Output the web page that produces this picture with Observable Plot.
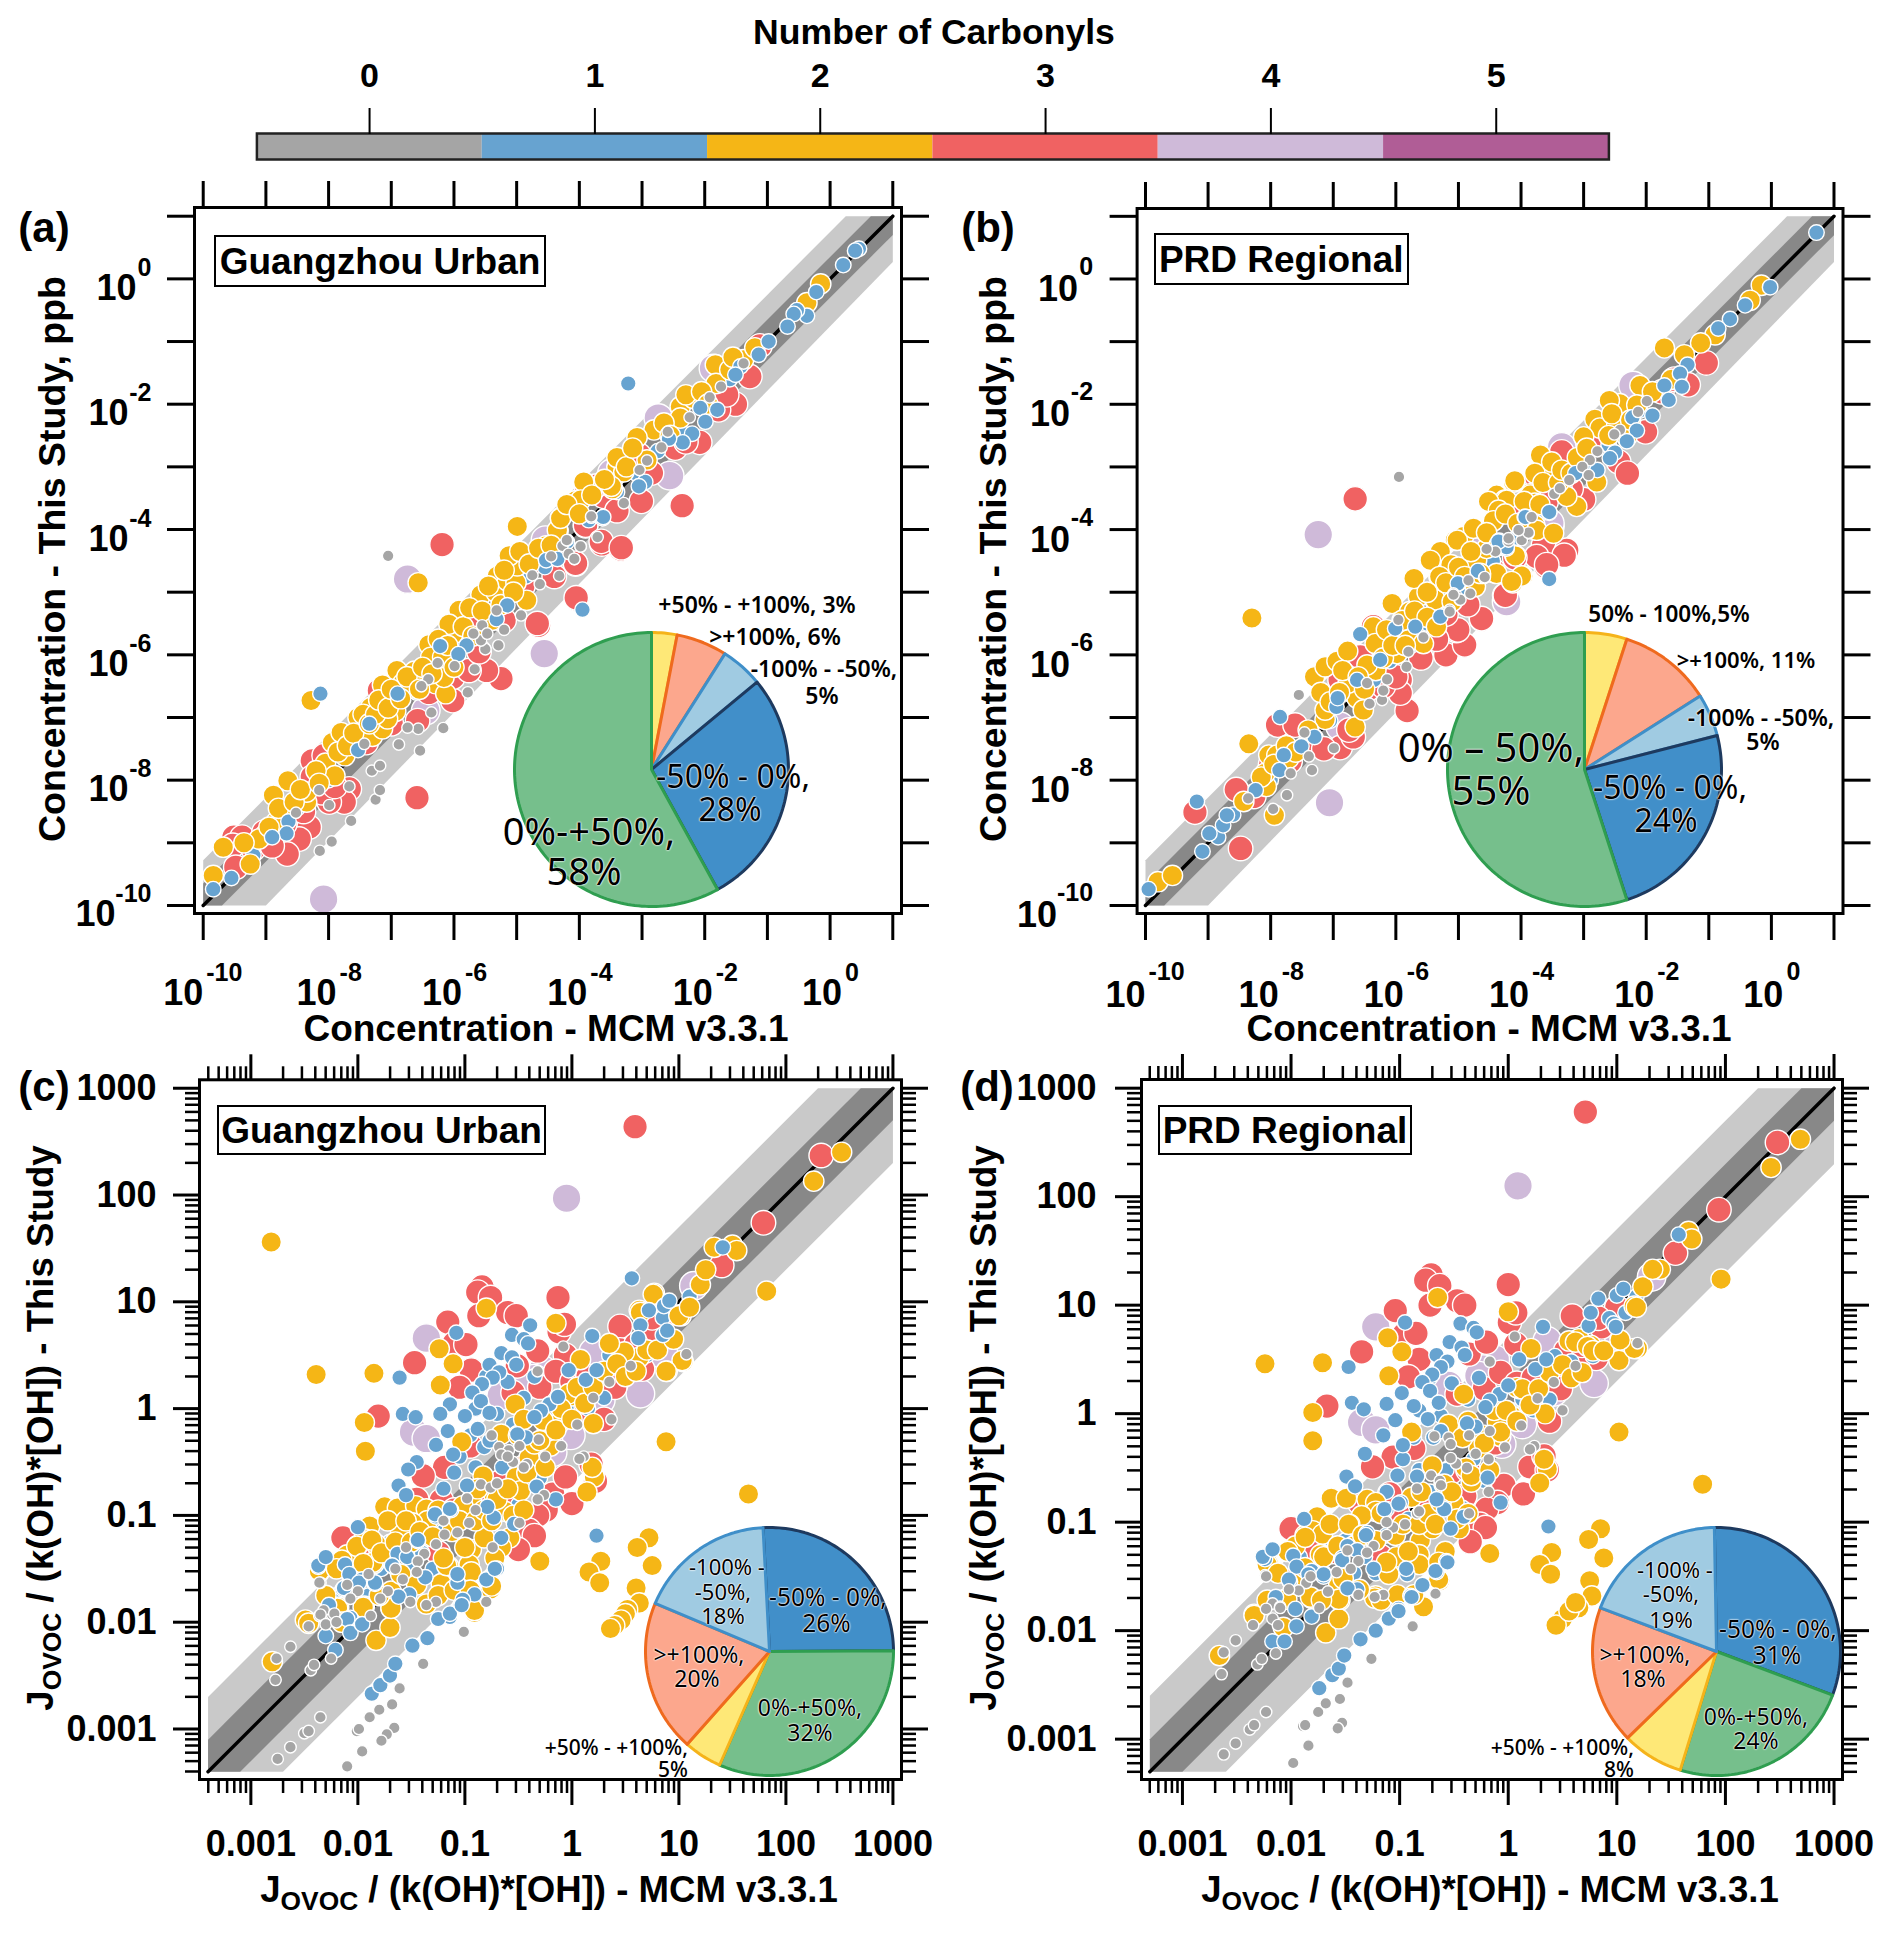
<!DOCTYPE html>
<html><head><meta charset="utf-8">
<script src="https://cdn.jsdelivr.net/npm/d3@7"></script>
<script src="https://cdn.jsdelivr.net/npm/@observablehq/plot@0.6"></script>
<style>
html,body{margin:0;padding:0;background:#fff}
#fig{position:relative;width:1892px;height:1933px;overflow:hidden;font-family:"Liberation Sans",Arial,sans-serif;color:#000}
#fig>svg,#fig>figure{position:absolute;margin:0}
.t{position:absolute;width:0;height:0}
.t span{position:absolute;white-space:nowrap;line-height:1}
.box{position:absolute;box-sizing:border-box;border:2px solid #000;background:#fff;font-weight:700;display:flex;align-items:center;justify-content:center;white-space:nowrap;line-height:1}
.p{position:absolute;white-space:nowrap;line-height:1;font-family:"Noto Sans",sans-serif;text-shadow:0 0 2px #fff,0 0 2px #fff,0 0 1px #fff}
sub{font-size:.72em;vertical-align:-.3em;line-height:0}
</style></head><body><div id="fig"></div>
<script>
// ---------- categories and colours ----------
const carbonyls=[0,1,2,3,4,5];
const carbonylColors=["#a5a5a5","#67a3d0","#f5b616","#f06262","#cfbad9","#b05d96"];
const dotRadii=[5.8,7.8,10.2,12.3,14.3];
const concExponents=[-10,-9,-8,-7,-6,-5,-4,-3,-2,-1,0,1];
const concLabelExponents=[-10,-8,-6,-4,-2,0];
const ratioMajor=[0.001,0.01,0.1,1,10,100,1000];
const ratioLabels=["0.001","0.01","0.1","1","10","100","1000"];

// ---------- pie shares (percent) ----------
const pieAValues=[3,6,5,28,58];
const pieBValues=[5,11,5,24,55];
const pieCValues=[26,32,5,20,18];
const pieDValues=[31,24,8,18,19];

// ---------- panel (a): log10 MCM, log10 this study ----------
const aGrey=[[-7.05,-4.42],[-8.14,-9.13],[-7.95,-8.98],[-7.64,-8.65],[-8.52,-8.52],[-7.99,-8.40],[-8.15,-8.16],[-7.67,-8.10],[-7.25,-8.31],[-7.18,-8.16],[-7.31,-7.85],[-7.18,-7.77],[-6.54,-7.53],[-6.88,-7.43],[-6.57,-7.18],[-6.17,-7.17],[-6.74,-7.16],[-7.43,-7.42],[-6.36,-6.92],[-5.78,-6.60],[-5.67,-6.23],[-6.26,-6.13],[-6.41,-6.39],[-6.52,-6.50],[-5.99,-6.18],[-5.29,-5.85],[-5.50,-5.91],[-5.57,-5.77],[-5.55,-5.53],[-5.69,-5.66],[-5.47,-5.66],[-5.20,-5.60],[-5.32,-5.29],[-4.93,-5.37],[-4.75,-4.73],[-4.63,-4.87],[-4.45,-4.43],[-4.27,-4.26],[-4.17,-4.39],[-4.08,-4.47],[-3.98,-4.27],[-4.19,-4.17],[-3.81,-3.81],[-3.71,-4.12],[-4.32,-4.74],[-1.38,-1.35],[-1.74,-1.72],[-1.92,-1.89],[-2.24,-2.21],[-2.59,-2.44],[-2.69,-2.69],[-2.92,-2.90],[-3.04,-3.05],[-3.29,-3.58],[-3.81,-3.79],[-4.20,-4.17],[-3.98,-4.27],[-4.08,-4.47]];
const aBlue=[[-9.84,-9.74],[-9.55,-9.56],[-8.64,-8.66],[-8.67,-8.85],[-7.53,-7.52],[-8.13,-6.62],[-3.95,-5.28],[-3.63,-3.82],[-4.53,-4.49],[-4.35,-4.47],[-5.15,-5.21],[-5.32,-5.43],[-5.80,-5.85],[-5.93,-5.99],[-6.22,-5.86],[-6.90,-6.62],[-7.35,-7.10],[-8.90,-8.91],[0.46,0.48],[0.40,0.45],[0.21,0.22],[-0.22,-0.21],[-0.37,-0.59],[-0.53,-0.50],[-0.58,-0.56],[-0.68,-0.76],[-0.98,-1.00],[-1.14,-1.21],[-1.43,-1.40],[-1.51,-1.53],[-3.22,-1.67],[-2.07,-2.06],[-1.80,-2.09],[-1.99,-2.28],[-2.20,-2.47],[-2.35,-2.61],[-2.57,-2.55],[-2.95,-3.24],[-3.05,-3.31],[-3.62,-3.80]];
const aBlueBack=[[-9.2,-9.2],[-8.5,-8.45],[-8.0,-8.0],[-7.7,-7.6],[-7.2,-7.2],[-6.95,-6.95],[-6.6,-6.6],[-6.35,-6.25],[-6.05,-6.05],[-5.85,-5.75],[-5.45,-5.45],[-5.2,-5.1],[-4.85,-4.75],[-4.55,-4.6],[-4.2,-4.2],[-3.85,-3.85],[-3.4,-3.4],[-3.1,-3.1],[-2.75,-2.75],[-2.4,-2.4],[-2.0,-2.0],[-1.6,-1.6]];
const aGold=[[-9.84,-9.52],[-9.68,-9.07],[-9.25,-9.34],[-9.01,-8.87],[-9.11,-8.94],[-8.88,-8.24],[-8.65,-8.01],[-8.28,-6.73],[-8.74,-8.59],[-8.84,-8.67],[-8.35,-8.35],[-8.35,-8.19],[-8.05,-7.73],[-7.90,-7.93],[-7.74,-7.61],[-7.94,-7.40],[-7.80,-7.24],[-7.46,-7.18],[-7.53,-7.00],[-7.33,-6.84],[-7.30,-7.30],[-7.14,-7.18],[-6.93,-6.90],[-7.06,-7.02],[-7.14,-6.48],[-6.91,-6.25],[-6.82,-6.46],[-6.69,-6.53],[-6.63,-6.26],[-6.45,-6.41],[-6.29,-6.46],[-6.13,-6.62],[-6.16,-6.36],[-6.40,-5.84],[-6.26,-5.99],[-6.37,-6.04],[-6.18,-6.04],[-6.02,-5.67],[-5.92,-5.29],[-6.08,-5.51],[-5.57,-5.04],[-5.33,-5.00],[-5.31,-4.74],[-5.15,-4.82],[-5.01,-4.85],[-4.99,-4.58],[-5.12,-4.42],[-4.84,-5.13],[-5.49,-5.35],[-5.39,-5.45],[-4.34,-4.02],[-4.30,-3.81],[-4.53,-4.26],[-4.06,-3.54],[-4.99,-3.95],[-6.57,-4.85],[-3.47,-3.35],[-3.90,-3.27],[-0.15,-0.08],[-0.37,-0.38],[-1.83,-1.37],[-1.38,-1.29],[-1.82,-1.67],[-2.39,-2.04],[-2.39,-2.22],[-2.18,-1.91],[-2.81,-2.41],[-3.08,-2.53],[-2.92,-2.89],[-3.40,-3.00],[-3.29,-3.08],[-3.49,-3.31],[-3.93,-3.24],[-3.98,-3.53],[-4.35,-4.01],[-4.30,-3.82]];
const aGoldDense=[[-9.35,-9.0],[-8.95,-8.75],[-8.8,-8.45],[-8.55,-8.35],[-8.45,-8.15],[-8.2,-7.85],[-8.15,-8.05],[-7.85,-7.55],[-7.7,-7.45],[-7.6,-7.25],[-7.45,-6.95],[-7.35,-7.1],[-7.25,-6.95],[-7.2,-6.72],[-7.05,-6.85],[-7.0,-6.55],[-6.85,-6.7],[-6.75,-6.35],[-6.55,-6.55],[-6.5,-6.2],[-6.35,-6.3],[-6.25,-5.75],[-6.1,-5.85],[-6.0,-6.2],[-5.85,-5.55],[-5.75,-5.25],[-5.7,-5.7],[-5.55,-5.3],[-5.45,-4.9],[-5.25,-5.2],[-5.2,-4.65],[-5.05,-5.0],[-4.95,-4.35],[-4.8,-4.55],[-4.65,-4.3],[-4.45,-4.25],[-4.2,-3.6],[-4.0,-3.75],[-3.8,-3.45],[-3.6,-3.2],[-3.4,-2.85],[-3.25,-3.0],[-3.15,-2.7],[-2.65,-2.3],[-2.55,-2.5],[-2.3,-1.85],[-2.05,-1.8],[-1.95,-2.0],[-1.6,-1.45],[-1.55,-1.25],[-1.2,-1.1]];
const aRed=[[-6.19,-4.24],[-6.59,-8.28],[-4.65,-5.53],[-5.25,-6.38],[-4.04,-5.11],[-3.34,-4.31],[-3.64,-4.23],[-4.06,-4.55],[-4.72,-4.50],[-3.90,-3.94],[-3.87,-3.38],[-3.60,-3.38],[-5.48,-6.25],[-6.02,-6.73],[-5.76,-5.56],[-6.02,-6.36],[-5.76,-6.25],[-8.26,-7.69],[-8.07,-7.61],[-7.67,-8.14],[-7.75,-8.35],[-7.99,-8.35],[-8.31,-8.75],[-8.47,-8.94],[-8.66,-9.18],[-9.51,-8.91],[-9.38,-8.91],[-9.53,-9.04],[-9.48,-9.39],[-9.03,-8.83],[-8.21,-8.11],[-8.26,-7.95],[-7.19,-6.57],[-6.58,-7.05],[-1.12,-1.07],[-1.28,-1.56],[-1.51,-2.00],[-1.78,-2.09],[-2.08,-2.61],[-2.47,-2.70],[-3.05,-2.81],[-3.01,-3.55],[-2.36,-3.62],[-3.61,-3.47],[-3.88,-3.37],[-3.75,-3.31],[-3.90,-3.93],[-3.65,-4.19],[-3.33,-4.29],[-4.06,-4.54],[-4.73,-4.51],[-4.05,-5.09],[-4.67,-5.50],[-9.2,-9.1],[-8.9,-9.05],[-8.7,-8.7],[-8.4,-8.5],[-8.1,-8.2],[-7.9,-8.1],[-7.4,-7.4],[-7.0,-7.1],[-6.4,-6.6],[-6.2,-6.0],[-5.6,-5.95],[-5.2,-5.45],[-4.9,-4.9],[-4.4,-4.75],[-3.4,-3.7],[-2.85,-3.1],[-2.3,-2.6],[-1.65,-1.85]];
const aPurple=[[-8.08,-9.90],[-6.74,-4.79],[-4.56,-5.98],[-6.45,-6.89],[-4.53,-4.23],[-2.74,-2.22],[-2.56,-3.14],[-1.86,-1.43],[-3.48,-3.10],[-4.54,-4.17]];

// ---------- panel (b) ----------
const bGrey=[[-7.55,-6.64],[-5.95,-3.16],[-7.96,-8.46],[-7.74,-8.24],[-8.36,-8.29],[-7.68,-7.89],[-7.34,-7.84],[-7.39,-7.62],[-7.46,-7.24],[-6.99,-7.49],[-6.42,-6.78],[-6.22,-6.72],[-6.20,-6.57],[-6.14,-6.39],[-6.46,-6.45],[-5.83,-6.19],[-5.80,-5.95],[-5.56,-5.72],[-5.14,-5.28],[-4.98,-5.12],[-4.81,-5.02],[-5.08,-5.02],[-4.59,-4.77],[-4.84,-4.81],[-4.41,-4.35],[-4.55,-4.31],[-4.20,-4.19],[-4.04,-4.01],[-3.88,-4.06],[-3.99,-4.17],[-3.47,-3.43],[-3.83,-3.80],[-5.96,-5.44],[-1.99,-1.95],[-2.13,-2.12],[-2.42,-2.41],[-2.51,-2.48],[-2.78,-2.75],[-2.90,-2.89],[-3.02,-3.00],[-2.92,-3.13],[-3.23,-3.21],[-3.38,-3.34],[-3.88,-4.05],[-4.04,-4.01],[-4.20,-4.14],[-4.58,-4.76],[-4.97,-5.12],[-5.08,-5.04],[-5.14,-5.31]];
const bBlue=[[-9.95,-9.74],[-9.09,-9.14],[-8.84,-8.91],[-8.98,-8.85],[-8.76,-8.72],[-8.70,-8.56],[-8.24,-8.16],[-9.18,-8.34],[-7.86,-7.84],[-7.79,-7.60],[-7.51,-7.46],[-7.30,-7.31],[-6.95,-6.83],[-6.93,-6.69],[-6.62,-6.40],[-6.57,-5.67],[-6.25,-6.08],[-6.01,-5.58],[-5.69,-5.55],[-5.29,-5.39],[-5.00,-4.86],[-4.69,-4.66],[-3.55,-4.79],[-3.55,-3.73],[-4.23,-4.30],[-4.35,-4.18],[-3.94,-3.80],[-7.85,-6.99],[0.72,0.74],[-0.02,-0.13],[-0.42,-0.42],[-0.66,-0.64],[-0.85,-0.79],[-1.34,-1.37],[-1.46,-1.51],[-1.71,-1.70],[-1.43,-1.72],[-1.64,-1.93],[-1.90,-2.18],[-2.22,-2.21],[-2.15,-2.42],[-2.31,-2.59],[-2.50,-2.77],[-2.58,-2.86],[-2.78,-3.05],[-3.13,-3.10],[-3.55,-3.72],[-3.93,-3.80],[-4.23,-4.28],[-4.36,-4.19],[-5.01,-4.86]];
const bBlueBack=[[-8.6,-8.55],[-8.0,-8.0],[-7.55,-7.55],[-7.05,-7.05],[-6.7,-6.65],[-6.35,-6.4],[-6.1,-6.1],[-5.75,-5.85],[-5.5,-5.5],[-5.15,-5.2],[-4.85,-4.95],[-4.45,-4.5],[-4.1,-4.15],[-3.7,-3.75],[-3.3,-3.35],[-2.95,-3.0],[-2.6,-2.65],[-2.1,-2.1]];
const bGold=[[-9.80,-9.62],[-9.57,-9.52],[-8.30,-5.41],[-8.35,-7.42],[-7.94,-8.56],[-8.43,-8.34],[-8.07,-8.10],[-8.09,-7.89],[-8.03,-7.60],[-7.90,-7.60],[-7.71,-7.65],[-7.13,-7.03],[-7.13,-6.88],[-6.65,-7.15],[-6.62,-6.69],[-6.76,-6.45],[-6.52,-6.88],[-6.32,-6.25],[-6.46,-6.16],[-7.30,-6.35],[-7.13,-6.19],[-6.94,-6.10],[-6.77,-5.94],[-6.36,-5.55],[-6.33,-5.82],[-5.98,-5.98],[-6.06,-5.18],[-5.80,-5.76],[-5.56,-5.82],[-5.78,-5.31],[-5.64,-5.07],[-5.37,-5.14],[-5.71,-4.78],[-5.45,-4.49],[-5.29,-4.35],[-5.31,-4.75],[-5.13,-4.57],[-5.05,-4.17],[-4.76,-3.97],[-4.92,-4.11],[-4.71,-4.49],[-4.55,-4.30],[-4.39,-4.70],[-4.10,-4.41],[-4.13,-4.85],[-3.97,-4.74],[-4.44,-3.85],[-4.52,-3.56],[-4.39,-3.45],[-4.26,-3.53],[-3.86,-3.43],[-4.12,-3.24],[-3.78,-3.93],[-0.16,-0.10],[-0.34,-0.34],[-0.90,-0.89],[-1.13,-1.02],[-1.71,-1.10],[-1.39,-1.21],[-2.10,-1.70],[-2.42,-1.99],[-2.59,-1.94],[-2.15,-2.01],[-2.82,-2.24],[-2.74,-2.38],[-2.47,-2.33],[-3.00,-2.52],[-2.31,-2.52],[-2.79,-3.24],[-3.56,-3.05],[-3.69,-2.81],[-3.51,-2.92],[-3.78,-3.10],[-4.10,-3.22],[-3.85,-3.45],[-3.78,-3.58],[-3.11,-3.63],[-3.27,-3.47],[-4.23,-3.53],[-4.52,-3.55],[-4.36,-3.69],[-4.44,-3.86],[-4.76,-3.98],[-5.02,-4.17],[-4.09,-4.42],[-3.75,-4.01],[-3.48,-4.06],[-3.99,-4.74],[-4.15,-4.83],[-5.29,-4.35],[-5.45,-4.49],[-5.12,-4.56],[-5.30,-4.75],[-5.37,-5.12],[-4.65,-4.72],[-4.73,-4.91]];
const bGoldDense=[[-8.15,-7.95],[-7.95,-7.75],[-7.75,-7.45],[-7.6,-7.55],[-7.4,-7.2],[-7.2,-6.6],[-7.05,-6.75],[-6.9,-6.6],[-6.85,-6.25],[-6.6,-6.35],[-6.5,-6.55],[-6.2,-6.05],[-6.15,-5.6],[-6.05,-5.85],[-5.9,-5.45],[-5.85,-5.85],[-5.7,-5.3],[-5.5,-5.4],[-5.5,-5.0],[-5.35,-5.55],[-5.2,-4.85],[-5.1,-5.15],[-5.0,-4.6],[-4.9,-4.75],[-4.8,-4.35],[-4.65,-4.7],[-4.55,-4.05],[-4.35,-4.25],[-4.25,-3.75],[-4.05,-3.9],[-3.95,-3.55],[-3.7,-3.6],[-3.65,-3.25],[-3.4,-3.25],[-3.35,-3.05],[-3.2,-3.1],[-3.1,-2.85],[-2.95,-2.7],[-2.6,-2.5],[-2.55,-2.15],[-2.25,-2.25],[-1.9,-1.8],[-1.6,-1.6]];
const bRed=[[-9.21,-8.51],[-8.48,-9.09],[-7.89,-7.12],[-7.61,-7.12],[-5.82,-6.89],[-5.93,-6.40],[-5.93,-6.61],[-6.89,-7.48],[-6.68,-7.31],[-7.69,-7.70],[-8.27,-8.26],[-6.65,-3.51],[-5.20,-6.00],[-4.90,-5.84],[-5.03,-5.61],[-4.63,-5.43],[-4.26,-5.05],[-3.75,-4.43],[-3.60,-4.59],[-3.64,-4.25],[-3.27,-4.33],[-6.57,-6.03],[-6.36,-5.55],[-6.89,-6.40],[-1.04,-1.34],[-1.33,-1.69],[-2.44,-2.92],[-2.30,-3.10],[-2.01,-2.44],[-3.35,-2.76],[-3.75,-3.16],[-3.48,-3.18],[-3.00,-3.52],[-3.31,-4.41],[-3.75,-4.43],[-3.59,-4.56],[-4.25,-5.05],[-4.63,-5.42],[-5.01,-5.60],[-7.35,-7.35],[-7.15,-7.5],[-6.75,-7.2],[-6.45,-6.55],[-6.2,-6.5],[-6.0,-6.35],[-5.6,-6.05],[-5.35,-5.75],[-5.2,-5.35],[-4.85,-5.2],[-4.45,-4.65],[-4.1,-4.45],[-3.95,-3.7],[-3.6,-3.55],[-3.2,-3.35],[-2.7,-2.55],[-1.75,-1.8],[-1.55,-1.6],[-8.55,-8.15],[-8.0,-7.75]];
const bPurple=[[-7.24,-4.08],[-7.06,-8.36],[-6.89,-7.14],[-4.23,-5.15],[-4.68,-4.17],[-3.54,-3.95],[-2.21,-1.70],[-3.35,-2.68],[-3.54,-3.90],[-4.65,-4.22]];

// ---------- panel (c): log10 MCM, log10 this study ----------
const cGrey=[[-0.08,0.58],[-0.32,0.35],[0.37,-0.10],[-0.31,-0.29],[-0.49,-0.35],[-0.68,-0.36],[-0.59,-0.39],[-0.66,-0.43],[-0.42,-0.52],[0.11,-0.45],[0.07,-0.47],[1.07,0.51],[-0.85,-0.71],[-0.76,-0.74],[-0.98,-0.84],[-0.26,-0.81],[-0.32,-0.85],[-0.96,-1.07],[-0.49,-1.07],[-1.19,-1.18],[-1.07,-1.16],[-1.27,-1.27],[-1.38,-1.36],[-1.44,-1.43],[-1.45,-1.53],[-1.58,-1.60],[-2.35,-1.63],[-2.00,-1.71],[-1.72,-1.71],[-1.79,-1.78],[-2.07,-1.78],[-1.51,-1.81],[-1.27,-1.81],[-1.36,-1.84],[-0.80,-1.81],[-1.88,-1.94],[-2.24,-1.93],[-2.32,-1.89],[-2.36,-1.94],[-0.74,-1.30],[-2.10,-3.35],[-1.96,-3.21],[-2.01,-3.02],[-1.99,-3.00],[-1.89,-2.89],[-1.80,-2.82],[-1.68,-2.77],[-1.61,-2.62],[-1.66,-2.99],[-1.73,-3.05],[-1.78,-3.11],[-1.39,-2.39],[-1.01,-2.09],[-2.75,-3.28],[-2.63,-3.17],[-2.50,-3.04],[-2.46,-3.02],[-2.35,-2.89],[-2.77,-2.54],[-2.76,-2.34],[-2.63,-2.23],[-2.44,-2.45],[-2.41,-2.40],[-2.46,-2.04],[-2.35,-1.93],[-2.36,-1.63],[-2.25,-2.34],[-2.30,-2.02],[-2.22,-1.92],[-2.2,-2.0],[-2.1,-1.65],[-1.9,-1.55],[-1.65,-1.5],[-1.55,-1.3],[-1.2,-1.05],[-0.9,-0.95],[-0.7,-0.7],[-0.55,-0.5],[-0.45,-0.55],[-0.25,-0.45],[-0.1,-0.35],[0.05,-0.15],[0.2,0.1],[0.35,0.25],[0.55,0.4],[-0.75,-0.25],[-0.6,-0.45]];
const cBlue=[[0.56,1.22],[-0.39,0.78],[-0.56,0.69],[-0.45,0.65],[-0.41,0.61],[-1.08,0.71],[-0.66,0.52],[-0.56,0.48],[-0.52,0.41],[-0.77,0.41],[-0.68,0.34],[-0.74,0.29],[-0.84,0.23],[-0.93,0.15],[-0.85,0.07],[-1.14,0.04],[-1.23,-0.05],[-1.58,-0.05],[-1.61,0.29],[-1.00,-0.07],[-0.77,-0.04],[-0.88,-0.19],[-1.16,-0.21],[-1.27,-0.34],[-1.11,-0.43],[-0.82,-0.36],[-0.77,-0.30],[-1.46,-0.08],[-0.21,0.04],[-0.29,-0.02],[-0.35,-0.08],[-0.13,0.11],[-0.43,-0.27],[-0.51,-0.24],[-1.45,-0.50],[-1.53,-0.57],[-1.62,-0.72],[-1.55,-0.81],[-0.98,-0.72],[-0.33,-0.73],[-1.13,-0.95],[-1.27,-1.01],[-0.73,-1.02],[-0.79,-0.92],[-2.00,-1.11],[-1.63,-1.36],[-1.54,-1.39],[-1.44,-1.24],[-1.37,-1.58],[-1.67,-1.48],[-2.12,-1.46],[-2.37,-1.48],[-2.08,-1.55],[-1.96,-1.60],[-1.84,-1.64],[-2.14,-1.69],[-1.07,-1.63],[-0.80,-1.60],[-0.70,-1.50],[-0.91,-1.74],[-1.04,-1.84],[-1.14,-1.95],[-1.52,-1.74],[-2.07,-1.96],[0.23,-1.19],[0.19,0.68],[0.85,0.69],[0.64,0.78],[0.62,0.66],[0.72,0.92],[0.86,0.96],[0.91,1.01],[0.13,0.27],[0.23,0.36],[-0.03,0.36],[0.89,0.73],[-0.54,-1.08],[-0.66,-1.21],[1.41,1.51],[-1.87,-2.67],[-1.79,-2.59],[-1.70,-2.50],[-1.65,-2.39],[-1.49,-2.22],[-1.35,-2.15],[-1.25,-1.97],[-1.14,-1.92],[-1.02,-1.79],[-0.72,-1.50],[-2.37,-1.47],[-2.30,-1.39],[-2.13,-1.68],[-2.27,-1.84],[-2.10,-1.97],[-2.30,-2.13],[-2.21,-2.26],[-2.07,-2.10],[-1.96,-2.02],[-1.99,-1.63],[-1.84,-1.63],[-1.68,-1.47],[-1.44,-1.23],[-1.28,-0.99],[-1.14,-0.94],[-1.07,-1.55],[-1.62,-1.76],[-1.03,-1.84]];
const cBlueBack=[[-2.2,-1.75],[-2.0,-1.35],[-1.9,-1.75],[-1.78,-1.5],[-1.7,-1.25],[-1.58,-1.2],[-1.5,-1.5],[-1.4,-1.35],[-1.3,-1.5],[-1.2,-1.15],[-1.2,-0.75],[-1.1,-0.6],[-1.05,-0.45],[-1.0,-1.0],[-0.95,-0.25],[-0.9,-0.55],[-0.9,0.0],[-0.8,-0.75],[-0.8,0.3],[-0.7,-0.05],[-0.65,-0.55],[-0.6,0.25],[-0.55,-0.15],[-0.5,-0.9],[-0.45,0.1],[-0.4,-0.45],[-0.35,0.3],[-0.3,-0.65],[-0.2,-0.2],[-0.15,-0.85],[-0.05,0.0],[0.05,0.1],[0.15,0.0],[0.3,0.1],[0.35,0.5],[0.5,0.45],[0.7,0.5],[0.85,0.85],[1.0,0.9],[1.1,1.05]];
const cGold=[[-2.39,0.32],[-1.85,0.33],[-1.94,-0.13],[-1.93,-0.40],[-1.23,0.22],[-1.11,0.42],[-1.24,0.56],[-0.80,0.94],[-0.15,0.80],[-0.53,0.04],[0.08,0.46],[0.77,1.08],[0.63,0.92],[1.02,0.87],[0.63,0.48],[0.89,0.35],[1.04,0.44],[0.49,0.53],[0.35,0.61],[0.88,-0.31],[0.20,-0.14],[-0.12,-0.14],[-0.20,-0.35],[-0.40,-0.46],[-1.03,-0.31],[-0.66,-0.24],[-0.52,-0.64],[-0.83,-0.63],[0.21,-0.64],[0.19,-0.55],[0.14,-0.78],[-0.30,-1.43],[0.27,-1.43],[0.72,-1.21],[0.61,-1.30],[0.75,-1.47],[0.16,-1.53],[0.26,-1.63],[0.60,-1.68],[0.63,-1.82],[0.52,-1.88],[-1.75,-0.92],[-1.63,-0.93],[-1.46,-0.91],[-1.36,-0.94],[-1.35,-1.05],[-1.49,-1.07],[-1.89,-1.10],[-1.60,-1.16],[-2.00,-1.28],[-1.94,-1.22],[-1.83,-1.27],[-2.10,-1.37],[-1.85,-1.45],[-2.36,-1.53],[-1.15,-1.48],[-0.94,-1.32],[-0.96,-1.46],[-0.94,-1.53],[-0.82,-1.21],[-0.63,-0.96],[-0.58,-1.21],[-0.94,-0.86],[-1.02,-0.91],[-0.73,-0.80],[-0.48,-0.77],[-1.22,-1.64],[-0.76,-1.69],[-0.91,-1.91],[-1.69,-1.87],[-1.94,-1.85],[-2.18,-1.86],[-1.36,-1.83],[-1.69,-1.71],[-2.49,-1.98],[0.00,0.12],[-0.23,-0.21],[-0.35,-0.33],[-0.27,-0.11],[-0.03,0.14],[-2.81,1.56],[-2.80,-2.37],[-2.46,-2.01],[-2.36,-1.52],[-2.19,-1.87],[-1.95,-1.86],[-1.83,-2.17],[-1.70,-2.05],[-1.69,-1.87],[-1.17,-1.47],[-0.91,-1.89],[-0.75,-1.66],[-1.86,-1.44],[-2.01,-1.29],[-1.87,-1.23],[-2.15,-1.42],[1.65,-0.80],[1.82,1.10],[1.33,1.51],[1.50,1.53],[1.54,1.48],[2.52,2.40],[2.26,2.13],[1.20,1.16],[1.03,0.45],[0.88,0.35],[1.00,0.87],[0.76,1.07],[0.64,0.90],[0.50,-1.92],[0.46,-1.98],[0.40,-2.03],[0.36,-2.06]];
const cGoldDense=[[-2.2,-1.5],[-2.05,-1.6],[-1.95,-1.45],[-1.78,-1.35],[-1.72,-1.05],[-1.65,-1.25],[-1.55,-1.05],[-1.5,-1.25],[-1.42,-1.15],[-1.3,-1.2],[-1.25,-0.95],[-1.2,-1.4],[-1.12,-1.15],[-1.05,-1.05],[-1.0,-1.3],[-0.9,-1.05],[-0.88,-0.75],[-0.82,-0.95],[-0.75,-1.05],[-0.7,-0.85],[-0.66,-1.3],[-0.6,-0.75],[-0.55,-1.0],[-0.45,-0.95],[-0.42,-0.6],[-0.5,-0.25],[-0.45,-0.1],[-0.3,-0.3],[-0.25,-0.55],[-0.15,-0.2],[-0.1,0.0],[0.0,-0.1],[0.05,0.2],[0.12,0.05],[0.2,0.2],[0.3,0.35],[0.42,0.42],[0.5,0.3],[0.6,0.35],[0.7,0.55],[0.8,0.55],[0.95,0.65],[1.1,0.95],[1.25,1.3],[-2.3,-1.75],[-2.15,-2.0],[-1.8,-1.75],[-1.6,-1.55],[-1.45,-1.65],[-1.25,-1.75],[-1.1,-1.7],[-0.95,-1.7],[-0.72,-1.4]];
const cRed=[[-0.84,1.14],[-0.88,1.09],[-0.76,1.04],[-0.87,0.87],[-0.60,0.90],[-0.52,0.87],[-0.13,1.04],[-0.12,0.72],[-0.07,0.79],[-1.16,0.81],[-1.10,0.61],[-0.99,0.60],[-1.47,0.43],[-0.94,0.36],[-1.05,0.20],[-1.81,-0.07],[-0.51,0.40],[-0.06,0.50],[0.45,0.77],[0.66,0.37],[0.55,0.40],[0.32,0.31],[0.10,0.01],[0.04,-0.05],[-1.19,-0.55],[-1.39,-0.63],[-0.66,-0.68],[-0.18,-0.80],[0.00,-0.89],[-0.24,-0.95],[-0.32,-1.00],[-0.40,-1.14],[-0.35,-1.19],[-0.50,-1.32],[-0.54,-0.89],[-2.14,-1.21],[-1.22,-0.86],[-0.06,-0.64],[0.18,-0.52],[0.22,-0.68],[0.83,0.79],[0.71,0.67],[-0.32,0.54],[0.59,2.64],[1.79,1.74],[2.33,2.37],[1.40,1.34],[-0.3,0.2],[-0.15,0.35],[0.0,0.25],[0.15,0.3],[0.4,0.2],[0.45,0.55],[0.6,0.6],[0.3,-0.1],[-0.2,-0.3],[-0.45,-0.55],[-0.8,-0.85],[-1.1,-0.95],[-1.45,-0.85],[-1.7,-1.3],[-1.9,-1.3],[-2.0,-1.5],[-0.95,-0.35],[0.75,0.85],[-0.55,0.15],[-1.25,-1.35]];
const cPurple=[[-1.36,0.66],[-0.27,0.36],[-0.35,0.28],[-0.40,0.23],[0.20,0.53],[0.64,0.14],[-0.66,0.12],[-1.48,-0.22],[-1.36,-0.28],[-0.18,-0.41],[-0.01,-0.25],[0.27,0.08],[0.86,0.50],[1.14,1.15],[-0.05,1.97]];

// ---------- panel (d) ----------
const dGrey=[[0.06,0.71],[-0.17,0.48],[0.50,0.03],[-0.17,-0.16],[-0.36,-0.20],[-0.55,-0.22],[-0.53,-0.28],[-0.30,-0.37],[0.24,-0.30],[0.20,-0.33],[1.19,0.65],[-0.71,-0.57],[-0.63,-0.62],[-0.84,-0.69],[-0.18,-0.72],[-0.36,-0.92],[-0.84,-0.92],[-1.06,-1.05],[-0.95,-1.02],[-1.12,-1.12],[-1.24,-1.22],[-1.30,-1.28],[-1.38,-1.36],[-1.45,-1.43],[-2.24,-1.49],[-1.86,-1.56],[-1.66,-1.64],[-1.74,-1.79],[-1.93,-1.63],[-1.38,-1.67],[-1.15,-1.67],[-1.23,-1.69],[-0.67,-1.67],[-2.17,-1.75],[-2.10,-1.78],[-1.98,-3.22],[-1.84,-3.06],[-1.89,-2.88],[-1.87,-2.87],[-1.75,-2.75],[-1.68,-2.67],[-1.55,-2.63],[-1.48,-2.48],[-1.53,-2.85],[-1.57,-2.90],[-1.26,-2.26],[-0.88,-1.96],[-0.67,-1.66],[-2.62,-3.14],[-2.51,-3.04],[-2.38,-2.91],[-2.34,-2.87],[-2.23,-2.75],[-2.64,-2.40],[-2.62,-2.20],[-2.51,-2.09],[-2.31,-2.31],[-2.27,-2.26],[-2.35,-1.95],[-2.23,-1.80],[-2.23,-1.50],[-2.14,-2.21],[-2.17,-1.89],[-2.10,-1.79],[-2.12,-1.95],[-2.02,-1.62],[-1.82,-1.5],[-1.58,-1.46],[-1.48,-1.26],[-1.12,-1.0],[-0.82,-0.9],[-0.62,-0.66],[-0.48,-0.46],[-0.38,-0.5],[-0.18,-0.42],[-0.03,-0.31],[0.12,-0.11],[0.27,0.14],[0.42,0.29],[0.62,0.44],[-0.68,-0.21],[-0.53,-0.41]];
const dBlue=[[0.32,0.80],[-0.44,0.83],[-0.32,0.79],[-0.29,0.75],[-0.95,0.84],[-0.54,0.66],[-0.43,0.61],[-0.40,0.54],[-0.66,0.54],[-0.56,0.48],[-0.62,0.43],[-0.70,0.36],[-0.79,0.29],[-0.72,0.21],[-0.98,0.19],[-1.12,0.09],[-1.44,0.10],[-1.47,0.43],[-0.87,0.07],[-0.64,0.10],[-0.74,-0.05],[-1.04,-0.06],[-1.15,-0.20],[-0.97,-0.29],[-0.69,-0.22],[-0.62,-0.16],[-1.33,0.04],[-0.08,0.18],[-0.17,0.12],[-0.21,0.06],[0.00,0.26],[-0.30,-0.12],[-0.38,-0.09],[-1.32,-0.37],[-1.49,-0.58],[-1.41,-0.67],[-0.84,-0.58],[-0.19,-0.59],[-0.99,-0.82],[-1.12,-0.88],[-0.59,-0.88],[-0.66,-0.79],[-1.88,-0.97],[-1.48,-1.22],[-1.39,-1.26],[-1.30,-1.10],[-1.24,-1.43],[-1.53,-1.33],[-1.98,-1.31],[-2.24,-1.34],[-1.95,-1.41],[-1.81,-1.45],[-1.70,-1.50],[-2.01,-1.55],[-0.93,-1.48],[-0.66,-1.46],[-0.57,-1.36],[-0.79,-1.58],[-0.90,-1.68],[-1.01,-1.80],[-1.39,-1.62],[-1.96,-1.80],[0.37,-1.04],[0.97,0.83],[0.74,0.81],[0.76,0.93],[0.83,1.06],[1.00,1.09],[1.06,1.15],[0.25,0.41],[0.35,0.50],[0.10,0.50],[0.99,0.80],[-0.41,-0.95],[-0.53,-1.06],[1.57,1.65],[-1.74,-2.53],[-1.62,-2.41],[-1.56,-2.35],[-1.51,-2.23],[-1.36,-2.08],[-1.22,-2.00],[-1.10,-1.89],[-1.01,-1.82],[-0.89,-1.69],[-0.67,-1.45],[-0.56,-1.37],[-2.26,-1.32],[-2.17,-1.25],[-2.02,-1.53],[-2.14,-1.69],[-1.95,-1.96],[-2.17,-2.10],[-2.06,-2.10],[-1.81,-1.87],[-1.84,-1.48],[-1.70,-1.48],[-1.53,-1.35],[-1.31,-1.12],[-1.14,-0.88],[-1.01,-0.83],[-0.94,-1.43],[-1.48,-1.61]];
const dBlueBack=[[-2.12,-1.72],[-1.92,-1.32],[-1.82,-1.72],[-1.7,-1.47],[-1.62,-1.22],[-1.5,-1.17],[-1.42,-1.47],[-1.32,-1.32],[-1.22,-1.47],[-1.12,-1.12],[-1.12,-0.72],[-1.02,-0.57],[-0.97,-0.42],[-0.92,-0.97],[-0.87,-0.22],[-0.82,-0.52],[-0.82,0.03],[-0.72,-0.72],[-0.72,0.33],[-0.62,-0.02],[-0.57,-0.52],[-0.52,0.28],[-0.47,-0.12],[-0.42,-0.87],[-0.37,0.13],[-0.32,-0.42],[-0.27,0.33],[-0.22,-0.62],[-0.12,-0.17],[-0.07,-0.82],[0.03,0.03],[0.13,0.13],[0.23,0.03],[0.38,0.13],[0.43,0.53],[0.58,0.48],[0.78,0.53],[0.93,0.88],[1.08,0.93],[1.18,1.08]];
const dGold=[[-2.24,0.46],[-1.71,0.47],[-1.80,0.01],[-1.80,-0.25],[-1.10,0.35],[-0.98,0.57],[-1.11,0.70],[-0.65,1.07],[0.00,0.94],[-0.41,0.18],[0.21,0.60],[1.02,-0.17],[0.34,0.00],[0.03,-0.02],[-0.07,-0.21],[-0.27,-0.32],[-0.89,-0.17],[-0.55,-0.10],[-0.39,-0.50],[-0.70,-0.48],[0.36,-0.51],[0.33,-0.42],[0.29,-0.64],[-0.17,-1.29],[0.40,-1.28],[0.85,-1.06],[0.74,-1.16],[0.88,-1.33],[0.29,-1.39],[0.39,-1.48],[0.75,-1.54],[0.77,-1.68],[0.65,-1.79],[-1.63,-0.78],[-1.49,-0.78],[-1.30,-0.79],[-1.22,-0.82],[-1.22,-0.90],[-1.35,-0.94],[-1.76,-0.95],[-1.46,-1.02],[-1.87,-1.12],[-1.80,-1.08],[-1.71,-1.11],[-1.96,-1.22],[-1.72,-1.30],[-2.21,-1.38],[-1.02,-1.34],[-0.81,-1.17],[-0.82,-1.30],[-0.82,-1.39],[-0.70,-1.06],[-0.50,-0.82],[-0.45,-1.06],[-0.81,-0.72],[-0.89,-0.77],[-0.59,-0.65],[-0.34,-0.63],[-1.10,-1.48],[-0.63,-1.54],[-0.79,-1.77],[-1.55,-1.72],[-1.81,-1.70],[-2.05,-1.71],[-1.22,-1.68],[-1.56,-1.57],[-2.34,-1.85],[0.11,0.23],[-0.10,-0.08],[-0.22,-0.20],[-0.13,0.03],[0.08,0.24],[0.76,0.63],[0.65,0.69],[0.56,0.67],[1.02,0.49],[1.19,0.60],[0.62,0.66],[2.69,2.53],[2.42,2.27],[1.66,1.68],[1.69,1.61],[1.96,1.24],[1.79,-0.65],[1.40,1.33],[1.24,1.17],[1.16,0.99],[1.16,0.60],[0.73,0.62],[-2.66,-2.23],[-2.34,-1.86],[-2.22,-1.39],[-2.04,-1.71],[-1.82,-1.69],[-1.68,-2.02],[-1.56,-1.89],[-1.56,-1.71],[-1.23,-1.70],[-1.03,-1.32],[-0.78,-1.78],[-0.64,-1.53],[-1.73,-1.30],[-1.87,-1.14],[-2.03,-1.27],[0.50,-1.89],[0.44,-1.95],[0.56,-1.82],[0.62,-1.74]];
const dGoldDense=[[-2.12,-1.47],[-1.97,-1.57],[-1.87,-1.42],[-1.7,-1.32],[-1.64,-1.02],[-1.57,-1.22],[-1.47,-1.02],[-1.42,-1.22],[-1.34,-1.12],[-1.22,-1.17],[-1.17,-0.92],[-1.12,-1.37],[-1.04,-1.12],[-0.97,-1.02],[-0.92,-1.27],[-0.82,-1.02],[-0.8,-0.72],[-0.74,-0.92],[-0.67,-1.02],[-0.62,-0.82],[-0.58,-1.27],[-0.52,-0.72],[-0.47,-0.97],[-0.37,-0.92],[-0.34,-0.57],[-0.42,-0.22],[-0.37,-0.07],[-0.22,-0.27],[-0.17,-0.52],[-0.07,-0.17],[-0.02,0.03],[0.08,-0.07],[0.13,0.23],[0.2,0.08],[0.28,0.23],[0.38,0.38],[0.5,0.45],[0.58,0.33],[0.68,0.38],[0.78,0.58],[0.88,0.58],[1.03,0.68],[1.18,0.98],[1.33,1.33],[-2.22,-1.72],[-2.07,-1.97],[-1.72,-1.72],[-1.52,-1.52],[-1.37,-1.62],[-1.17,-1.72],[-1.02,-1.67],[-0.87,-1.67],[-0.64,-1.37]];
const dRed=[[-0.71,1.28],[-0.76,1.23],[-0.63,1.18],[-0.72,1.00],[-0.47,1.04],[-0.40,1.00],[0.00,1.19],[0.01,0.84],[0.07,0.93],[-1.04,0.95],[-0.96,0.73],[-0.85,0.74],[-1.35,0.57],[-0.82,0.50],[-0.92,0.34],[-1.67,0.07],[-0.36,0.55],[0.07,0.64],[0.59,0.90],[0.81,0.51],[0.68,0.55],[0.46,0.45],[0.25,0.15],[0.19,0.11],[-1.06,-0.40],[-1.25,-0.49],[-0.53,-0.54],[-0.04,-0.66],[0.14,-0.74],[-0.10,-0.82],[-0.20,-0.88],[-0.26,-1.02],[-0.21,-1.05],[-0.35,-1.18],[-0.40,-0.76],[-2.00,-1.06],[-1.09,-0.74],[0.20,-0.49],[0.33,-0.39],[0.36,-0.52],[1.00,0.98],[0.86,0.80],[-0.20,0.66],[0.71,2.78],[1.94,1.88],[2.48,2.50],[1.54,1.48],[-0.22,0.23],[-0.07,0.38],[0.08,0.28],[0.23,0.33],[0.48,0.23],[0.53,0.58],[0.68,0.63],[0.38,-0.07],[-0.12,-0.27],[-0.37,-0.52],[-0.72,-0.82],[-1.02,-0.92],[-1.37,-0.82],[-1.62,-1.27],[-1.82,-1.27],[-1.92,-1.47],[-0.87,-0.32],[0.83,0.88],[-0.47,0.18],[-1.17,-1.32]];
const dPurple=[[-1.22,0.80],[-0.12,0.50],[-0.23,0.41],[-0.27,0.35],[0.36,0.67],[0.79,0.28],[-0.55,0.26],[-1.35,-0.08],[-1.22,-0.15],[-0.06,-0.28],[0.13,-0.10],[0.42,0.20],[1.00,0.61],[0.09,2.10],[1.32,1.26]];

// ---------- factor-of bands, in log10 units ----------
const concWide=[[-10,-10],[-10,-9.28],[0.25,1],[1,1],[1,0.27],[-9,-10]];
const concNarrow=[[-10,-10],[-10,-9.65],[0.65,1],[1,1],[1,0.7],[-9.7,-10]];
const concOneToOne=[[-10,-10],[1,1]];
const cWide=[[-3.4,-3.4],[-3.4,-2.7],[2.3,3],[3,3],[3,2.3],[-2.7,-3.4]];
const cNarrow=[[-3.4,-3.4],[-3.4,-3.1],[2.7,3],[3,3],[3,2.7],[-3.1,-3.4]];
const cOneToOne=[[-3.4,-3.4],[3,3]];
const dWide=[[-3.3,-3.3],[-3.3,-2.6],[2.3,3],[3,3],[3,2.3],[-2.6,-3.3]];
const dNarrow=[[-3.3,-3.3],[-3.3,-3.0],[2.7,3],[3,3],[3,2.7],[-3.0,-3.3]];
const dOneToOne=[[-3.3,-3.3],[3,3]];

// ---------- helpers ----------
const fig=document.getElementById("fig");
const pow=v=>10**v, X=d=>10**d[0], Y=d=>10**d[1];
function place(node,left,top){node.style.position="absolute";node.style.left=left+"px";node.style.top=top+"px";node.style.overflow="visible";fig.appendChild(node);}
function minors(startExp,startMult){const out=[];for(let e=startExp;e<3;e++)for(let m=(e===startExp?startMult:2);m<=9;m++)out.push(m*10**e);return out;}

function axisSet(values,len,sw){const o={tickSize:len,strokeWidth:sw,stroke:"#000",fill:"none",label:null};return [
  Plot.axisX(values,{anchor:"bottom",...o}),
  Plot.axisX(values,{anchor:"top",...o}),
  Plot.axisY(values,{anchor:"left",...o}),
  Plot.axisY(values,{anchor:"right",...o})];}

function dots(l){ // back to front: purple, red, hidden blue, gold, blue on top, grey
  const order=[[l.purple,4],[l.red,3],[l.back,1],[l.gold,2],[l.blue,1],[l.grey,0]];
  return order.map(([arr,c])=>Plot.dot(arr,{x:X,y:Y,r:dotRadii[c],fill:carbonylColors[c],stroke:"#fff",strokeWidth:1.4}));
}
function bands(wide,narrow,line){return [
  Plot.line(wide,{x:X,y:Y,fill:"#c9c9c9",stroke:"none"}),
  Plot.line(narrow,{x:X,y:Y,fill:"#888888",stroke:"none"}),
  Plot.line(line,{x:X,y:Y,stroke:"#000",strokeWidth:3.5})];}

const xExpShift={"-10":0,"-8":8,"-6":8,"-4":8,"-2":8,"0":12};
const supW={"-10":35,"-8":22,"-6":22,"-4":22,"-2":22,"0":14};
function concLabels(yEnd,xBase,xSup,yB,yS){
  const out=[];
  for(const e of concLabelExponents){
    const s=xExpShift[e];
    out.push(Plot.text([e],{x:pow,frameAnchor:"bottom",text:()=>"10",textAnchor:"end",lineAnchor:"bottom",dx:s,dy:xBase,fontSize:36,fontWeight:700}));
    out.push(Plot.text([e],{x:pow,frameAnchor:"bottom",text:d=>String(d),textAnchor:"start",lineAnchor:"bottom",dx:s+3,dy:xSup,fontSize:25,fontWeight:700}));
    out.push(Plot.text([e],{y:pow,frameAnchor:"left",text:()=>"10",textAnchor:"end",lineAnchor:"bottom",dx:yEnd-supW[e]-1,dy:yB,fontSize:36,fontWeight:700}));
    out.push(Plot.text([e],{y:pow,frameAnchor:"left",text:d=>String(d),textAnchor:"end",lineAnchor:"bottom",dx:yEnd,dy:yS,fontSize:25,fontWeight:700}));
  }
  return out;
}
function ratioText(yEnd,xBase){return [
  Plot.text(ratioMajor,{x:d=>d,frameAnchor:"bottom",text:(d,i)=>ratioLabels[i],lineAnchor:"bottom",dy:xBase,fontSize:36,fontWeight:700}),
  Plot.text(ratioMajor,{y:d=>d,frameAnchor:"left",text:(d,i)=>ratioLabels[i],textAnchor:"end",lineAnchor:"middle",dx:yEnd,fontSize:36,fontWeight:700})];}

function panel(c){
  const p=Plot.plot({width:c.w,height:c.h,marginLeft:c.ml,marginRight:c.mr,marginTop:c.mt,marginBottom:c.mb,
    style:{background:"transparent",fontFamily:"Liberation Sans, Arial, sans-serif",overflow:"visible",color:"#000"},
    x:{type:"log",domain:c.xd.map(pow),axis:null},y:{type:"log",domain:c.yd.map(pow),axis:null},
    marks:[...c.marks,Plot.frame({stroke:"#000",strokeWidth:3})]});
  place(p,c.left,c.top);
}

function pie(values,fills,strokes,start,cx,cy,R){
  const total=d3.sum(values);let a=start;const marks=[];
  values.forEach((v,i)=>{
    const a1=a+v/total*360,pts=[[0,0]];
    const n=Math.max(2,Math.ceil((a1-a)/1.5));
    for(let k=0;k<=n;k++){const t=(a+(a1-a)*k/n)*Math.PI/180;pts.push([Math.sin(t),Math.cos(t)]);}
    pts.push([0,0]);
    marks.push(Plot.line(pts,{x:d=>d[0],y:d=>d[1],fill:fills[i],stroke:strokes[i],strokeWidth:3,strokeLinejoin:"round"}));
    a=a1;});
  const m=4;
  const p=Plot.plot({width:2*R+2*m,height:2*R+2*m,margin:m,style:{background:"transparent",overflow:"visible"},
    x:{domain:[-1,1],axis:null},y:{domain:[-1,1],axis:null},marks});
  place(p,cx-R-m,cy-R-m);
}
const Y_F="#fee877",Y_S="#f5b31a",S_F="#fca78d",S_S="#ef6a1e",L_F="#a0cbe2",L_S="#3f8fc9",B_F="#418fc9",B_S="#1e3a5f",G_F="#76bf8c",G_S="#2f9e50";

function label(html,x,y,size,opts={}){ // baseline-anchored text
  const t=document.createElement("div");t.className="t";t.style.left=x+"px";t.style.top=y+"px";
  if(opts.rotate)t.style.transform="rotate(-90deg)";
  const s=document.createElement("span");s.innerHTML=html;s.style.fontSize=size+"px";s.style.fontWeight="700";
  s.style.top=(-0.8465*size)+"px";s.style.left="0";s.style.transform="translateX(-50%)";
  t.appendChild(s);fig.appendChild(t);
}
function box(text,l,t,r,b,size){const d=document.createElement("div");d.className="box";d.textContent=text;
  Object.assign(d.style,{left:l+"px",top:t+"px",width:(r-l)+"px",height:(b-t)+"px",fontSize:size+"px"});fig.appendChild(d);}
function pl(text,x,y,size,weight=400,anchor="middle"){const d=document.createElement("div");d.className="p";d.textContent=text;
  Object.assign(d.style,{left:x+"px",top:y+"px",fontSize:size+"px",fontWeight:weight,
    transform:anchor==="end"?"translate(-100%,-50%)":"translate(-50%,-50%)"});fig.appendChild(d);}

// ---------- colour bar ----------
place(Plot.plot({width:1892,height:110,marginLeft:256.4,marginRight:283.6,marginTop:73,marginBottom:11,
  style:{background:"transparent",fontFamily:"Liberation Sans, Arial, sans-serif",overflow:"visible",color:"#000"},
  x:{domain:[-0.5,5.5],axis:null},
  marks:[
    Plot.rectX(carbonyls,{x1:d=>d-0.5,x2:d=>d+0.5,fill:(d,i)=>carbonylColors[i]}),
    Plot.frame({stroke:"#222",strokeWidth:2.5}),
    Plot.axisX(carbonyls,{anchor:"top",tickSize:26,strokeWidth:2,stroke:"#000",fill:"none",label:null}),
    Plot.text(carbonyls,{x:d=>d,frameAnchor:"top",text:d=>String(d),lineAnchor:"bottom",dy:-47,fontSize:34,fontWeight:700})
  ]}),0,60);
label("Number of Carbonyls",934,45,35.6);

// ---------- panels ----------
const concTicks=concExponents.map(pow);
panel({left:0,top:170,w:946,h:870,ml:194,mr:45,mt:37,mb:127,xd:[-10.139,1.139],yd:[-10.128,1.139],
  marks:[...bands(concWide,concNarrow,concOneToOne),...dots({grey:aGrey,blue:aBlue,back:aBlueBack,gold:[...aGold,...aGoldDense],red:aRed,purple:aPurple}),...axisSet(concTicks,27,3),...concLabels(-43,91,67,21,-3)]});
panel({left:946,top:170,w:946,h:870,ml:190.6,mr:49.5,mt:38,mb:127,xd:[-10.134,1.144],yd:[-10.128,1.125],
  marks:[...bands(concWide,concNarrow,concOneToOne),...dots({grey:bGrey,blue:bBlue,back:bBlueBack,gold:[...bGold,...bGoldDense],red:bRed,purple:bPurple}),...axisSet(concTicks,27,3),...concLabels(-44,93,66,22,-4)]});
panel({left:0,top:1040,w:946,h:893,ml:199,mr:45,mt:39.3,mb:154,xd:[-3.48,3.08],yd:[-3.473,3.079],
  marks:[...bands(cWide,cNarrow,cOneToOne),...dots({grey:cGrey,blue:cBlue,back:cBlueBack,gold:[...cGold,...cGoldDense],red:cRed,purple:cPurple}),...axisSet(minors(-4,4),14,2.5),...axisSet(ratioMajor,26,3),...ratioText(-43,76)]});
panel({left:946,top:1040,w:946,h:893,ml:195,mr:50,mt:39,mb:154,xd:[-3.377,3.078],yd:[-3.372,3.08],
  marks:[...bands(dWide,dNarrow,dOneToOne),...dots({grey:dGrey,blue:dBlue,back:dBlueBack,gold:[...dGold,...dGoldDense],red:dRed,purple:dPurple}),...axisSet(minors(-4,5),14,2.5),...axisSet(ratioMajor,26,3),...ratioText(-45,76)]});

// ---------- panel letters, boxes, axis titles ----------
label("(a)",44,243,42);label("(b)",988,243,42);label("(c)",44,1102,42);label("(d)",987,1102,42);
box("Guangzhou Urban",214,235,546,287,37);box("PRD Regional",1153.5,233,1409,285,37);
box("Guangzhou Urban",217,1105,546,1155,37);box("PRD Regional",1158,1105,1412,1155,37);
label("Concentration - MCM v3.3.1",546,1041,37);label("Concentration - MCM v3.3.1",1489,1041,37);
label("Concentration - This Study, ppb",66,559,37.5,{rotate:true});label("Concentration - This Study, ppb",1007,559,37.5,{rotate:true});
const jx="J<sub>OVOC</sub> / (k(OH)*[OH]) - MCM v3.3.1",jy="J<sub>OVOC</sub> / (k(OH)*[OH]) - This Study";
label(jx,549,1903,36.6);label(jx,1490,1903,36.6);
label(jy,54,1428,36.6,{rotate:true});label(jy,997,1428,36.6,{rotate:true});

// ---------- pies ----------
pie(pieAValues,[Y_F,S_F,L_F,B_F,G_F],[Y_S,S_S,L_S,B_S,G_S],0,651,769,137);
pie(pieBValues,[Y_F,S_F,L_F,B_F,G_F],[Y_S,S_S,L_S,B_S,G_S],0,1583.7,769,137);
pie(pieCValues,[B_F,G_F,Y_F,S_F,L_F],[B_S,G_S,Y_S,S_S,L_S],-3,769,1651,124);
pie(pieDValues,[B_F,G_F,Y_F,S_F,L_F],[B_S,G_S,Y_S,S_S,L_S],-1,1716.4,1651,124);

pl("+50% - +100%, 3%",757,604,23,600);pl(">+100%, 6%",775,636,23,600);pl("-100% - -50%,",824,668,23,600);pl("5%",822,695,23,600);
pl("-50% - 0%,",733,776,32);pl("28%",730,809,32);pl("0%-+50%,",589,830,38);pl("58%",584,870,38);
pl("50% - 100%,5%",1669,614,22.5,600);pl(">+100%, 11%",1746,659,22,600);pl("-100% - -50%,",1761,717,23,600);pl("5%",1763,741,23,600);
pl("-50% - 0%,",1670,787,32);pl("24%",1666,820,32);pl("0% – 50%,",1491,747,40);pl("55%",1491,790,40);
pl("-100% -",727,1566,22);pl("-50%,",723,1590.5,22);pl("18%",723,1615,22);pl("-50% - 0%,",828,1597,24.5);pl("26%",826.5,1623,24.5);
pl(">+100%,",699,1653.6,23);pl("20%",697,1678,23);pl("0%-+50%,",810,1707,23);pl("32%",810,1732,23);
pl("+50% - +100%,",688,1747,21,500,"end");pl("5%",688,1769,21,500,"end");
pl("-100% -",1675,1569,22);pl("-50%,",1671,1593,22);pl("19%",1671,1619,22);pl("-50% - 0%,",1778,1629,24.5);pl("31%",1777,1655,24.5);
pl(">+100%,",1645,1653.6,23);pl("18%",1643,1678,23);pl("0%-+50%,",1756,1715.5,23);pl("24%",1756,1740,23);
pl("+50% - +100%,",1634,1747,21,500,"end");pl("8%",1634,1769,21,500,"end");
</script></body></html>
